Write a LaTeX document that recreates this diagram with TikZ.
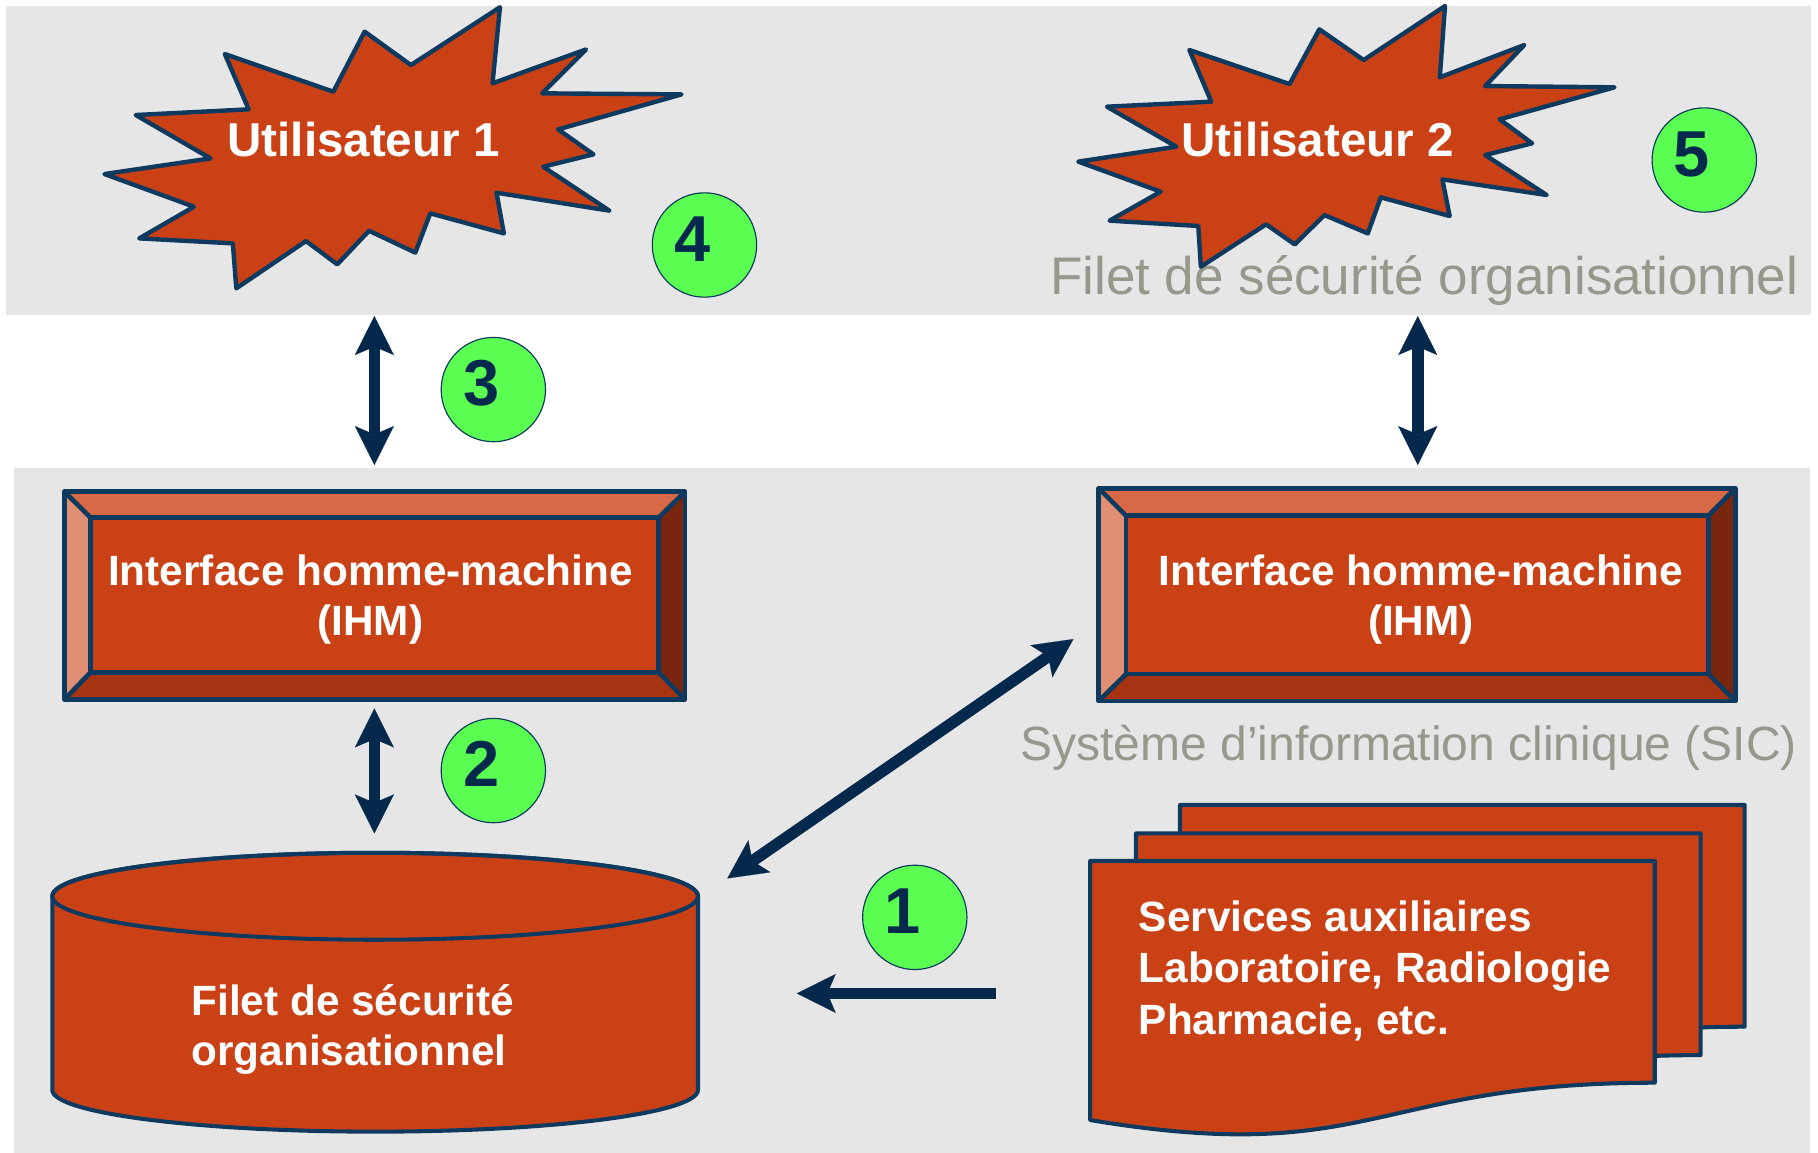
\documentclass[tikz,border=0pt]{standalone}
\usepackage{fontspec}
\setmainfont{Liberation Sans}
\usetikzlibrary{arrows.meta}
\definecolor{bgray}{RGB}{230,230,230}
\definecolor{rust}{RGB}{203,65,22}
\definecolor{navyline}{RGB}{14,58,96}
\definecolor{arrowblue}{RGB}{4,41,76}
\definecolor{numgreen}{RGB}{90,255,82}
\definecolor{txtgray}{RGB}{150,152,140}
\definecolor{bevtop}{RGB}{216,105,70}
\definecolor{bevleft}{RGB}{224,142,116}
\definecolor{bevright}{RGB}{122,38,14}
\definecolor{bevbot}{RGB}{166,52,18}
\tikzset{mytip/.tip={Stealth[length=33.6pt,width=33.6pt,inset=7.2pt,line width=0.1pt]}}
\begin{document}
\begin{tikzpicture}[x=1pt,y=-1pt,
  star/.style={fill=rust,draw=navyline,line width=3.8pt,line join=round},
  userlabel/.style={text=white,font=\fontsize{41}{49}\selectfont\bfseries,inner sep=0pt,anchor=base},
  whitelabel/.style={text=white,font=\fontsize{36.5}{43.7}\selectfont\bfseries,inner sep=0pt},
  graylabel/.style={text=txtgray,inner sep=0pt,anchor=base west},
  badge/.style={circle,fill=numgreen,draw=navyline,line width=1pt,minimum size=90pt,inner sep=0pt},
  badgenum/.style={text=arrowblue,font=\fontsize{56}{60}\selectfont\bfseries,inner sep=0pt,anchor=base},
  outline/.style={draw=navyline,line width=4pt,line join=round},
  docpage/.style={fill=rust,draw=navyline,line width=3.5pt,line join=round},
  conn/.style={draw=arrowblue,line width=10pt,-mytip},
  biconn/.style={draw=arrowblue,line width=10pt,mytip-mytip}]
\useasboundingbox (0,0) rectangle (1568,994);
\fill[white] (0,0) rectangle (1568,994);
% background bands
\fill[bgray] (5,5) rectangle (1562,272);
\fill[bgray] (12,404) rectangle (1561,994);

% gray captions
\node[graylabel,font=\fontsize{45.7}{50}\selectfont] (filettop) at (905.5,254.4) {Filet de sécurité organisationnel};
\node[graylabel,font=\fontsize{41.4}{48}\selectfont] (sic) at (880,655.5) {Système d’information clinique (SIC)};

% star 1
\draw[star] (431.2,6.3) -- (424.8,71.9) -- (505.4,42.6) -- (467.6,80.5) -- (587.8,81.4) -- (481.4,111.6) -- (511.8,133.1) -- (468.5,143.8) -- (525.6,181.7) -- (428.2,166.2) -- (434.6,201.3) -- (371.1,184.0) -- (358.2,217.9) -- (318.3,199.0) -- (290.9,228.0) -- (263.9,207.9) -- (203.8,248.7) -- (200.8,209.9) -- (120.1,205.6) -- (167.3,178.3) -- (90.1,150.1) -- (181.5,136.6) -- (117.1,99.2) -- (214.5,94.3) -- (193.9,46.6) -- (287.5,79.1) -- (314.5,27.3) -- (354.4,56.1) -- cycle;
\node[userlabel] (user1) at (313.5,135) {Utilisateur 1};

% star 2
\draw[star] (1246.3,5.2) -- (1241.8,66.7) -- (1314.7,38.8) -- (1280.9,74.2) -- (1392.5,75.3) -- (1293.5,102.9) -- (1321.4,123.6) -- (1280.9,133.7) -- (1334.0,168.2) -- (1244.0,154.7) -- (1250.3,186.3) -- (1190.9,170.2) -- (1179.7,201.3) -- (1142.3,185.5) -- (1116.7,210.8) -- (1092.0,193.5) -- (1035.7,230.0) -- (1033.5,194.9) -- (957.0,190.3) -- (1001.1,165.3) -- (930.0,139.4) -- (1014.6,126.5) -- (954.7,92.0) -- (1044.7,87.7) -- (1025.8,43.1) -- (1112.2,72.5) -- (1137.9,25.3) -- (1176.1,51.8) -- cycle;
\node[userlabel] (user2) at (1136.5,135) {Utilisateur 2};

% left IHM box
\fill[bevtop] (55.6,424.1) -- (590.7,424.1) -- (568.1,446.5) -- (78.1,446.5) -- cycle;
\fill[bevleft] (55.6,424.1) -- (78.1,446.5) -- (78.1,579.9) -- (55.6,603.2) -- cycle;
\fill[bevright] (590.7,424.1) -- (590.7,603.2) -- (568.1,579.9) -- (568.1,446.5) -- cycle;
\fill[bevbot] (55.6,603.2) -- (590.7,603.2) -- (568.1,579.9) -- (78.1,579.9) -- cycle;
\node[outline,fill=rust,minimum width=490pt,minimum height=133.4pt,inner sep=0pt] (ihm1box) at (323.1,513.2) {};
\draw[outline] (55.6,424.1) rectangle (590.7,603.2);
\draw[outline] (55.6,424.1) -- (78.1,446.5) (590.7,424.1) -- (568.1,446.5) (55.6,603.2) -- (78.1,579.9) (590.7,603.2) -- (568.1,579.9);
\node[whitelabel,align=center] (ihm1) at (319.5,517) {Interface homme-machine\\(IHM)};

% right IHM box
\fill[bevtop] (947.7,421.2) -- (1496.6,421.2) -- (1473.4,444.8) -- (971.3,444.8) -- cycle;
\fill[bevleft] (947.7,421.2) -- (971.3,444.8) -- (971.3,581.3) -- (947.7,604.6) -- cycle;
\fill[bevright] (1496.6,421.2) -- (1496.6,604.6) -- (1473.4,581.3) -- (1473.4,444.8) -- cycle;
\fill[bevbot] (947.7,604.6) -- (1496.6,604.6) -- (1473.4,581.3) -- (971.3,581.3) -- cycle;
\node[outline,fill=rust,minimum width=502.1pt,minimum height=136.5pt,inner sep=0pt] (ihm2box) at (1222.35,513.05) {};
\draw[outline] (947.7,421.2) rectangle (1496.6,604.6);
\draw[outline] (947.7,421.2) -- (971.3,444.8) (1496.6,421.2) -- (1473.4,444.8) (947.7,604.6) -- (971.3,581.3) (1496.6,604.6) -- (1473.4,581.3);
\node[whitelabel,align=center] (ihm2) at (1225.5,517) {Interface homme-machine\\(IHM)};

% cylinder
\draw[outline,line width=3.5pt,fill=rust] (45.1,773) -- (45.1,940) arc[start angle=180,end angle=0,x radius=278.45,y radius=36] -- (602,773) arc[start angle=0,end angle=-180,x radius=278.45,y radius=37.5] -- cycle;
\draw[outline,line width=3.5pt] (323.55,773) ellipse[x radius=278.45,y radius=37.5];
\node[whitelabel,align=left,anchor=west] (cyl) at (165,888) {Filet de sécurité\\organisationnel};

% document stack
\foreach \px/\py in {1017.7/694.3, 979.7/718.8, 940.2/742.6}{
  \draw[docpage] (\px,\py) -- ++(487,0) -- ++(0,191.2) .. controls +(-243.5,0) and +(243.5,40.6) .. ++(-487,32.2) -- cycle;
}
\node[whitelabel,align=left,anchor=west,font=\fontsize{36.5}{44.6}\selectfont\bfseries] (svc) at (982,837.3) {Services auxiliaires\\Laboratoire, Radiologie\\Pharmacie, etc.};

% badges
\node[badge] (b1) at (789,791.2) {};
\node[badgenum] (n1) at (778,805.2) {1};
\node[badge] (b2) at (425.5,664.6) {};
\node[badgenum] (n2) at (415,678.6) {2};
\node[badge] (b3) at (425.5,336) {};
\node[badgenum] (n3) at (415,350) {3};
\node[badge] (b4) at (607.6,211.3) {};
\node[badgenum] (n4) at (597,225.3) {4};
\node[badge] (b5) at (1469.9,138) {};
\node[badgenum] (n5) at (1459,152) {5};

% connector end points
\coordinate (a3t) at (322.9,272.6);
\coordinate (a3b) at (322.9,401.1);
\coordinate (art) at (1222.8,272.6);
\coordinate (arb) at (1222.8,401.1);
\coordinate (a2t) at (322.9,611);
\coordinate (a2b) at (322.9,718.8);
\coordinate (dgl) at (627.3,757.6);
\coordinate (dgr) at (925.8,551.2);
\coordinate (a1s) at (859,856.8);
\coordinate (a1e) at (687.2,856.8);

\draw[biconn] (a3t) -- (a3b);
\draw[biconn] (art) -- (arb);
\draw[biconn] (a2t) -- (a2b);
\draw[biconn] (dgl) -- (dgr);
\draw[conn] (a1s) -- (a1e);
\end{tikzpicture}
\end{document}
